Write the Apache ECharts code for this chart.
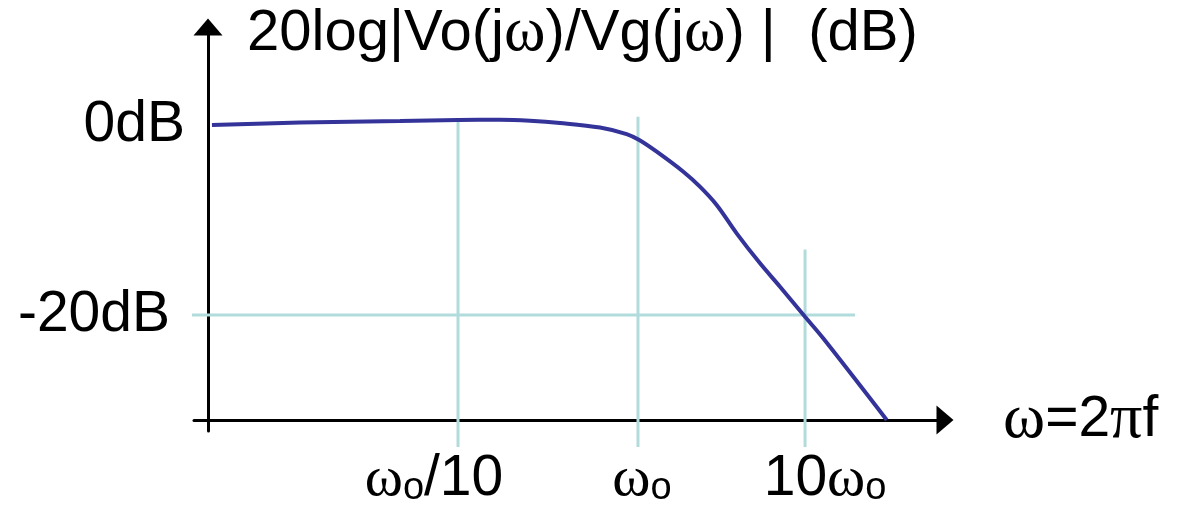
<!DOCTYPE html>
<html>
<head>
<meta charset="utf-8">
<script src="https://cdn.jsdelivr.net/npm/echarts@6/dist/echarts.min.js"></script>
<style>
  html, body { margin: 0; padding: 0; background: #fff; }
  #chart { width: 1185px; height: 506px; }
</style>
</head>
<body>
<div id="chart"></div>
<script>
// frequency in decades relative to wo (log10(w/wo)), gain in dB
var freqDecade = [-2.367, -1.878, -1.322, -1.0, -0.767, -0.6, -0.433, -0.211, -0.063, 0.007,
  0.104, 0.252, 0.344, 0.437, 0.548, 0.678, 0.789, 0.928, 1.029, 1.382];
var gainDb = [0, 0.26, 0.42, 0.53, 0.55, 0.45, 0.22, -0.26, -0.95, -1.58,
  -2.81, -4.92, -6.49, -8.42, -11.4, -14.56, -17.02, -20.18, -22.45, -31.05];

// light guide lines
var guideFreqs = [-1, 0, 0.928];
var guideTops = [0.74, 0.88, -13.1];
var guideBottom = -33.9;
var refLevel = -20;
var refSpan = [-2.561, 1.206];

var xTickLabels = ["ωo/10", "ωo", "10ωo"];
var yTicks = [0, -20];

var FONT = "Liberation Sans";
var SERIF = "Liberation Serif";
var BLUE = "#333399";
var GUIDE = "#b2dcdc";

var chart = echarts.init(document.getElementById("chart"));

function richOmega(label) {
  return label.split(/(ωo)/).filter(function (s) { return s; }).map(function (s) {
    return s === "ωo" ? "{w|ω}{o|o}" : "{n|" + s + "}";
  }).join("");
}
// nudge each tick label off its guide line, like the original
var labelNudge = [-24, 4, 20];

var labelRich = {
  n: { fontFamily: FONT, fontSize: 57, color: "#000", lineHeight: 57 },
  w: { fontFamily: SERIF, fontSize: 58, color: "#000", lineHeight: 57 },
  o: { fontFamily: FONT, fontSize: 38, color: "#000", lineHeight: 52, verticalAlign: "bottom" }
};
// spacer tokens: twice the shift, since labels are centred
labelNudge.forEach(function (d, i) {
  labelRich["s" + i] = { width: Math.abs(d) * 2 };
});

var guideSeries = [];
guideFreqs.forEach(function (f, i) {
  guideSeries.push({
    type: "line",
    data: [[f, guideTops[i]], [f, guideBottom]],
    symbol: "none",
    clip: false,
    silent: true,
    z: 1,
    lineStyle: { color: GUIDE, width: 3 }
  });
});
guideSeries.push({
  type: "line",
  data: [[refSpan[0], refLevel], [refSpan[1], refLevel]],
  symbol: "none",
  clip: false,
  silent: true,
  z: 1,
  lineStyle: { color: GUIDE, width: 3 }
});

var option = {
  animation: false,
  backgroundColor: "#fff",
  title: {
    text: "{n|20log|Vo(j}{w|ω}{n|)/Vg(j}{w|ω}{n|) |  (dB)}",
    left: 247,
    top: 5,
    padding: 0,
    textStyle: {
      fontWeight: "normal",
      rich: {
        n: { fontFamily: FONT, fontSize: 58, fontWeight: "normal", color: "#000", lineHeight: 57 },
        w: { fontFamily: SERIF, fontSize: 63, fontWeight: "normal", color: "#000", lineHeight: 57 }
      }
    }
  },
  grid: {
    left: 194,
    right: 240,
    top: 27,
    bottom: 75,
    outerBoundsMode: "none"
  },
  xAxis: {
    type: "value",
    min: -2.4667,
    max: 1.7056,
    offset: -11,
    splitLine: { show: false },
    axisTick: { show: false },
    axisLine: {
      onZero: false,
      lineStyle: { color: "#000", width: 3 },
      symbol: ["none", "triangle"],
      symbolSize: [29, 17]
    },
    axisLabel: {
      customValues: guideFreqs,
      margin: 31,
      formatter: function (v) {
        var i = guideFreqs.indexOf(v);
        if (i < 0) return "";
        var sp = "{s" + i + "| }";
        var d = labelNudge[i];
        return (d > 0 ? sp : "") + richOmega(xTickLabels[i]) + (d < 0 ? sp : "");
      },
      rich: labelRich
    },
    name: "{w|ω}{n|=2}{w|π}{n|f}",
    nameLocation: "end",
    nameGap: 58,
    nameTextStyle: {
      align: "left",
      verticalAlign: "middle",
      rich: {
        n: { fontFamily: FONT, fontSize: 57, color: "#000", lineHeight: 57 },
        w: { fontFamily: SERIF, fontSize: 64, color: "#000", lineHeight: 57 }
      }
    }
  },
  yAxis: {
    type: "value",
    min: -32.21,
    max: 10.32,
    offset: -14,
    splitLine: { show: false },
    axisTick: { show: false },
    axisLine: {
      onZero: false,
      lineStyle: { color: "#000", width: 3 },
      symbol: ["none", "triangle"],
      symbolSize: [29, 17]
    },
    axisLabel: {
      customValues: yTicks,
      margin: 23,
      fontFamily: FONT,
      fontSize: 57,
      color: "#000",
      formatter: function (v) {
        return v === 0 ? "{a|" + v + "dB}" : "{b|" + v + "dB}";
      },
      rich: {
        a: { fontFamily: FONT, fontSize: 57, color: "#000" },
        b: { fontFamily: FONT, fontSize: 57, color: "#000", padding: [0, 15, 0, 0] }
      }
    }
  },
  series: guideSeries.concat([
    {
      type: "line",
      data: freqDecade.map(function (f, i) { return [f, gainDb[i]]; }),
      symbol: "none",
      smooth: 0.35,
      clip: false,
      z: 3,
      lineStyle: { color: BLUE, width: 4 }
    }
  ])
};

chart.setOption(option);
</script>
</body>
</html>
